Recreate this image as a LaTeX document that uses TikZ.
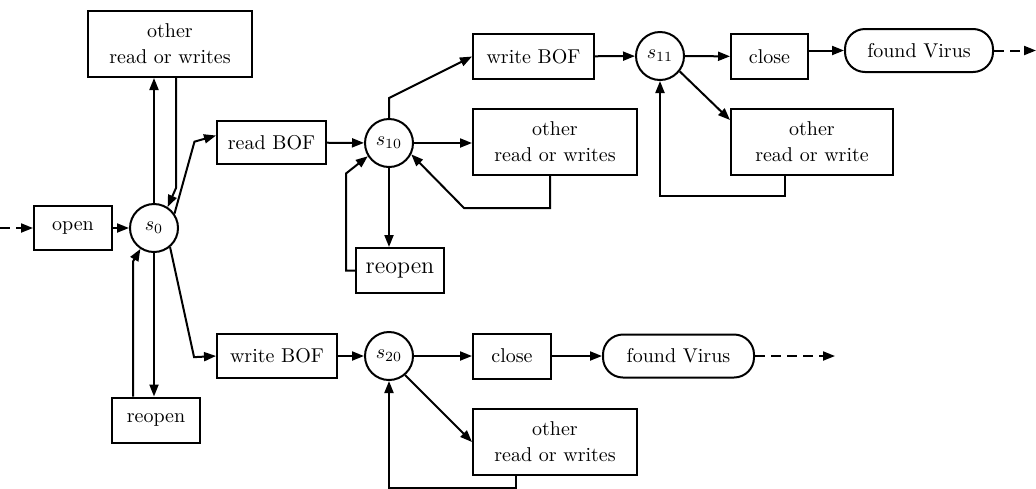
\documentclass[tikz,border=0pt]{standalone}
\usepackage{tikz}
\usetikzlibrary{positioning, shapes, arrows.meta}

\begin{document}
\begin{tikzpicture}[
        x=0.5pt, y=-0.5pt, line width=1pt,
        >={Triangle[length=6pt, width=4.5pt]},
        box/.style={draw, align=center, inner sep=1pt, minimum height=22pt},
        wide/.style={box, minimum width=82pt, minimum height=33pt},
        circ/.style={draw, circle, inner sep=0pt, minimum size=24pt},
        goal/.style={draw, rounded corners=10pt, minimum height=21.5pt},
        outflow/.style={->, dash pattern=on 5pt off 3pt}
      ]
        \useasboundingbox (0,0) rectangle (1036,488);
        % left part
        \coordinate (in) at (0,228);
        \node[box, minimum width=39pt] (open) at (73,228) {open};
        \node[circ] (s0) at (154,228) {$s_0$};
        \node[wide] (o_top) at (170,44) {other \\[1pt] read or writes};
        \node[box, minimum width=54.5pt, minimum height=21.5pt] (r_bof) at (271.5,142.5) {read BOF};
        \node[box, minimum width=44pt, minimum height=22.5pt] (reo_0) at (156,420) {reopen};
        \node[box, minimum width=60pt] (w_bof0) at (277,356) {write BOF};
        % upper branch
        \node[circ] (s10) at (389,143) {$s_{10}$};
        \node[box, minimum width=60.5pt, minimum height=22.5pt] (w_bof1) at (533.5,56.5) {write BOF};
        \node[wide] (o_mid) at (555,142) {other \\[1pt] read or writes};
        \node[box, minimum width=44pt, minimum height=22.5pt, font=\large] (reo_1) at (400,270.5) {reopen};
        \node[circ] (s11) at (660,56) {$s_{11}$};
        \node[box, minimum width=38.5pt, minimum height=22.5pt] (close_1) at (769.5,56.5) {close};
        \node[goal, minimum width=74pt] (found_1) at (919,50.5) {found Virus};
        \node[wide, minimum width=81pt] (o_rw) at (812,142) {other \\[1pt] read or write};
        \coordinate (out_1) at (1036,50.5);
        % lower branch
        \node[circ] (s20) at (389,356) {$s_{20}$};
        \node[box, minimum width=39pt, minimum height=22.5pt] (close_0) at (512,356) {close};
        \node[goal, minimum width=75.5pt] (found_0) at (678.5,356) {found Virus};
        \node[wide] (o_bot) at (555,442) {other \\[1pt] read or writes};
        \coordinate (out_0) at (835,356);

        \draw[outflow] (in) -- (open);
        \draw[->] (open) -- (s0);
        \draw[->] (s0) -- (s0 |- o_top.south);
        \draw[->] ([xshift=3pt]o_top.south) -- ++(0,110) -- (s0.57);
        \draw[->] (s0.35) -- ++(20,-72) -- ([yshift=3.5pt]r_bof.west);
        \draw[->] (s0.-50) -- ++(24,110) -- (w_bof0.west);
        \draw[->] (s0) -- (s0 |- reo_0.north);
        \draw[->] ([xshift=-11.5pt]reo_0.north) -- ++(0,-135) -- (s0.237);

        \draw[->] (r_bof) -- (s10);
        \draw[->] (s10.north) -- ++(0,-20) -- (w_bof1.west);
        \draw[->] (s10.east) -- (s10.east -| o_mid.west);
        \draw[->] ([xshift=-2.5pt]o_mid.south) -- ++(0,32) -- ++(-86,0) -- (s10.-27);
        \draw[->] (s10) -- (s10 |- reo_1.north);
        \draw[->] (reo_1.west) -- ++(-9,0) -- ++(0,-97) -- (s10.212);
        \draw[->] (w_bof1) -- (s11);
        \draw[->] (s11) -- (close_1);
        \draw[->] (close_1.east |- found_1) -- (found_1);
        \draw[outflow] (found_1) -- (out_1);
        \draw[->] (s11.-38) -- ([yshift=11pt]o_rw.west);
        \draw[->] ([xshift=-13.5pt]o_rw.south) -- ++(0,20) -| (s11.south);

        \draw[->] (w_bof0) -- (s20);
        \draw[->] (s20) -- (close_0);
        \draw[->] (close_0) -- (found_0);
        \draw[outflow] (found_0) -- (out_0);
        \draw[->] (s20.-50) -- (o_bot.west);
        \draw[->] ([xshift=-19.5pt]o_bot.south) -- ++(0,12) -| (s20.south);
      \end{tikzpicture}
\end{document}
